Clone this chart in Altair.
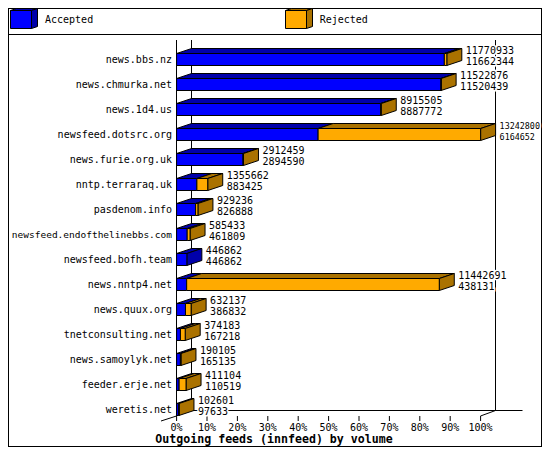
import altair as alt
import pandas as pd

hosts = ["news.bbs.nz", "news.chmurka.net", "news.1d4.us", "newsfeed.dotsrc.org", "news.furie.org.uk",
         "nntp.terraraq.uk", "pasdenom.info", "newsfeed.endofthelinebbs.com", "newsfeed.bofh.team",
         "news.nntp4.net", "news.quux.org", "tnetconsulting.net", "news.samoylyk.net", "feeder.erje.net",
         "weretis.net"]
offered = [11770933, 11522876, 8915505, 13242800, 2912459, 1355662, 929236, 585433, 446862,
           11442691, 632137, 374183, 190105, 411104, 102601]
accepted = [11662344, 11520439, 8887772, 6164652, 2894590, 883425, 826888, 461809, 446862,
            438131, 386832, 167218, 165135, 110519, 97633]
ticks = [0, 10, 20, 30, 40, 50, 60, 70, 80, 90, 100]
legend_items = ["Accepted", "Rejected"]
title = "Outgoing feeds (innfeed) by volume"

BLUE, DBLUE, ORANGE, DORANGE = "#0000ff", "#0000aa", "#ffaa00", "#aa7200"
W, H = 534, 439
X0, X1 = 168.6, 472.6          # pixel position of 0% and 100% inside the chart
PXX = (X1 - X0) / 100          # pixels per percent
pct = lambda px: (px - X0) / PXX
DX, DY = 15 / PXX, 5           # depth of the 3-D effect in data units
ROW, BAR, FIRST = 25, 12, 45.5  # y data unit is a pixel of the chart
xs = alt.Scale(domain=[pct(0), pct(W)], nice=False, zero=False)
ys = alt.Scale(domain=[0, H], range=[0, H], nice=False, zero=False)
mono = "DejaVu Sans Mono"
maxv = max(offered)

top_rows, side_rows, front_rows, labels = [], [], [], []
def top(g, a, b, y, c):
    top_rows.extend([dict(g=g, x=a, x2=b, y=y, c=c), dict(g=g, x=a + DX, x2=b + DX, y=y - DY, c=c)])
def side(g, e, y, h, c):
    side_rows.extend([dict(g=g, x=e, y=y, y2=y + h, c=c), dict(g=g, x=e + DX, y=y - DY, y2=y + h - DY, c=c)])

for i, (n, o, a) in enumerate(zip(hosts, offered, accepted)):
    t = FIRST + i * ROW
    pa, po = a / maxv * 100, o / maxv * 100
    top(f"a{i}", 0, pa, t, DBLUE)
    if o > a:
        top(f"r{i}", pa, po, t, DORANGE)
    side(f"s{i}", po, t, BAR, DORANGE if o > a else DBLUE)
    front_rows.append(dict(x=0, x2=pa, y=t, y2=t + BAR, c=BLUE))
    if o > a:
        front_rows.append(dict(x=pa, x2=po, y=t, y2=t + BAR, c=ORANGE))
    labels.append(dict(name=n, top=str(o), bot=str(a), ly=t + 6.5, ty=t - 3, by=t + 8,
                       tx=po + DX + 4 / PXX, fs=9.5 if len(n) > 26 else 10,
                       ns=8.4 if o == maxv else 10))

# legend cubes, in the same data units
for k, (lx, f, d) in enumerate([(2.5, BLUE, DBLUE), (277.5, ORANGE, DORANGE)]):
    a = pct(lx)
    b = pct(lx + 21)
    dx6 = 6 / PXX
    top_rows.extend([dict(g=f"L{k}", x=a, x2=b, y=2.5, c=d), dict(g=f"L{k}", x=a + dx6, x2=b + dx6, y=0.5, c=d)])
    side_rows.extend([dict(g=f"LS{k}", x=b, y=2.5, y2=20.5, c=d), dict(g=f"LS{k}", x=b + dx6, y=0.5, y2=18.5, c=d)])
    front_rows.append(dict(x=a, x2=b, y=2.5, y2=20.5, c=f))

top_df, side_df, front_df, lab_df = map(pd.DataFrame, (top_rows, side_rows, front_rows, labels))
legend_df = pd.DataFrame(dict(t=legend_items, x=[pct(37), pct(311.7)], y=[12, 12]))
tick_df = pd.DataFrame(dict(x=ticks, y=[408] * len(ticks), y2=[413] * len(ticks), ly=[419.7] * len(ticks),
                            t=[f"{v}%" for v in ticks]))

X = lambda f="x": alt.X(f"{f}:Q", scale=xs, axis=None)
Y = lambda f="y": alt.Y(f"{f}:Q", scale=ys, axis=None)

def line(x, x2, y, y2, w=1):
    d = pd.DataFrame(dict(x=[pct(x)], x2=[pct(x2)], y=[y], y2=[y2]))
    return alt.Chart(d).mark_rule(color="black", strokeWidth=w).encode(x=X(), x2="x2:Q", y=Y(), y2="y2:Q")

guides = [
    line(.5, .5, 0, H),                # frame
    line(0, W, .5, .5),
    line(0, W, 26.5, 26.5),            # legend separator
    line(W - .5, W - .5, 0, H),
    line(0, W, H - .5, H - .5),
    line(183.5, 183.5, 32, 402.5),     # back left wall
    line(487.5, 487.5, 32, 402.5),     # back right wall
    line(168.5, 168.5, 32, 408),       # front axis line
    line(183.5, 514.5, 402.5, 402.5),  # floor back edge
    line(153, 168.5, 413, 408),
    line(472.5, 487.5, 408, 402.5),
]

tick_marks = alt.Chart(tick_df).mark_rule(color="black", strokeWidth=1).encode(x=X(), y=Y(), y2="y2:Q")
tick_labels = alt.Chart(tick_df).mark_text(font=mono, fontSize=10, align="center", baseline="middle",
                                           color="black").encode(x=X(), y=Y("ly"), text="t:N")

tops = alt.Chart(top_df).mark_area(orient="horizontal", stroke="black", strokeWidth=1).encode(
    x=X(), x2="x2:Q", y=Y(), detail="g:N", fill=alt.Fill("c:N", scale=None))
sides = alt.Chart(side_df).mark_area(orient="vertical", stroke="black", strokeWidth=1).encode(
    x=X(), y=Y(), y2="y2:Q", detail="g:N", fill=alt.Fill("c:N", scale=None))
fronts = alt.Chart(front_df).mark_rect(stroke="black", strokeWidth=1).encode(
    x=X(), x2="x2:Q", y=Y(), y2="y2:Q", fill=alt.Fill("c:N", scale=None))

def txt(field, yf, **kw):
    return alt.Chart(lab_df).mark_text(font=mono, baseline="middle", align="left", **kw).encode(
        x=X("tx"), y=Y(yf), text=f"{field}:N", size=alt.Size("ns:Q", scale=None, legend=None))

names = alt.Chart(lab_df).mark_text(font=mono, baseline="middle", align="right", color="black").encode(
    x=alt.value(164), y=Y("ly"), text="name:N", size=alt.Size("fs:Q", scale=None, legend=None))
halo1 = txt("top", "ty", color="white", stroke="white", strokeWidth=3)
halo2 = txt("bot", "by", color="white", stroke="white", strokeWidth=3)
num1 = txt("top", "ty", color="black")
num2 = txt("bot", "by", color="black")
leg = alt.Chart(legend_df).mark_text(font=mono, fontSize=10, align="left", baseline="middle", color="black").encode(
    x=X(), y=Y(), text="t:N")
ttl = alt.Chart(pd.DataFrame(dict(t=[title]))).mark_text(font=mono, fontSize=11.6, fontWeight="bold",
    align="center", baseline="middle", color="black").encode(
    x=alt.value(266), y=alt.value(431.5), text="t:N")

chart = alt.layer(*guides, tick_marks, tick_labels, tops, sides, fronts, names, halo1, halo2, num1, num2, leg, ttl).properties(
    width=W, height=H, padding=0, autosize=alt.AutoSizeParams(type="none"),
    background="white", view=alt.ViewConfig(stroke=None)
)

chart.save("out.html", embed_options={"renderer": "svg", "actions": False})
